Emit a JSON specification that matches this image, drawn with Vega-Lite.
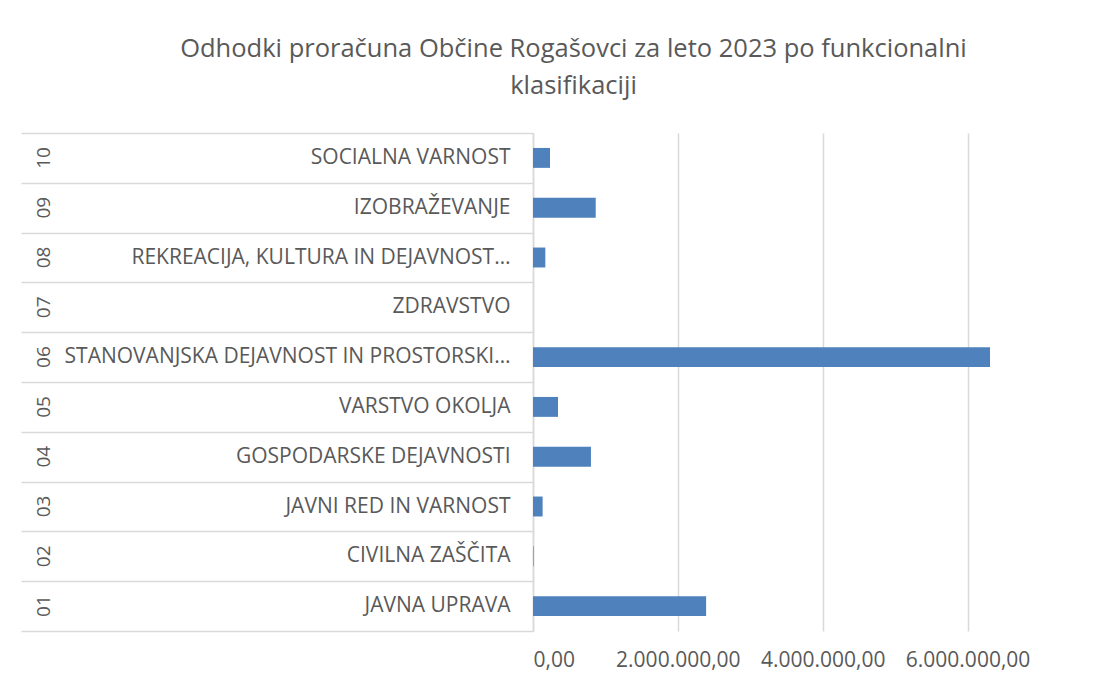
{
  "$schema": "https://vega.github.io/schema/vega-lite/v6.json",
  "autosize": "none",
  "width": 507,
  "height": 498,
  "padding": {"left": 533, "top": 133, "right": 79, "bottom": 55},
  "background": "white",
  "title": {
    "text": ["Odhodki proračuna Občine Rogašovci za leto 2023 po funkcionalni", "klasifikaciji"],
    "font": "Open Sans",
    "fontSize": 25.5,
    "fontWeight": "normal",
    "color": "#595959",
    "anchor": "middle",
    "frame": "group",
    "dx": -213,
    "offset": 33,
    "lineHeight": 37
  },
  "data": {
    "values": [
      {"category": "10 SOCIALNA VARNOST", "value": 235000},
      {"category": "09 IZOBRAŽEVANJE", "value": 866000},
      {"category": "08 REKREACIJA, KULTURA IN DEJAVNOST…", "value": 170000},
      {"category": "07 ZDRAVSTVO", "value": 0},
      {"category": "06 STANOVANJSKA DEJAVNOST IN PROSTORSKI…", "value": 6310000},
      {"category": "05 VARSTVO OKOLJA", "value": 345000},
      {"category": "04 GOSPODARSKE DEJAVNOSTI", "value": 800000},
      {"category": "03 JAVNI RED IN VARNOST", "value": 133000},
      {"category": "02 CIVILNA ZAŠČITA", "value": 8000},
      {"category": "01 JAVNA UPRAVA", "value": 2390000}
    ]
  },
  "layer": [
    {
      "mark": {"type": "bar", "color": "#4f81bd", "height": {"band": 0.4}},
      "encoding": {
        "y": {
          "field": "category", "type": "nominal", "sort": "descending",
          "scale": {"paddingInner": 0, "paddingOuter": 0},
          "axis": {
            "orient": "left",
            "title": null, "ticks": false, "tickSize": 0, "domain": true, "domainColor": "#d9d9d9", "domainWidth": 1.5,
            "labelExpr": "slice(datum.value, 3)", "labelPadding": 23, "labelLimit": 700,
            "labelFont": "Open Sans", "labelFontSize": 21, "labelColor": "#595959",
            "encode": {"labels": {"update": {"dx": {"signal": "indexof(datum.value, '…') >= 0 ? 17 : 0"}}}}
          }
        },
        "x": {
          "field": "value", "type": "quantitative",
          "scale": {"domain": [0, 7000000], "nice": false},
          "axis": {
            "title": null, "values": [0, 2000000, 4000000, 6000000], "format": ",.2f",
            "grid": true, "gridColor": "#d9d9d9", "gridWidth": 1.5, "domain": false, "ticks": false,
            "labelPadding": 18, "labelFont": "Open Sans", "labelFontSize": 21, "labelColor": "#595959"
          }
        }
      }
    },
    {
      "mark": {"type": "bar", "opacity": 0},
      "encoding": {
        "y": {
          "field": "category", "type": "nominal", "sort": "descending",
          "axis": {
            "orient": "left",
            "title": null, "ticks": false, "tickSize": 0, "domain": false,
            "labelExpr": "slice(datum.value, 0, 2)", "labelAngle": -90,
            "labelAlign": "center", "labelBaseline": "middle", "labelPadding": 490,
            "labelFont": "Open Sans", "labelFontSize": 19, "labelColor": "#595959"
          }
        }
      }
    },
    {
      "mark": {"type": "bar", "opacity": 0},
      "encoding": {
        "y": {
          "field": "category", "type": "nominal", "sort": "descending",
          "axis": {
            "orient": "left",
            "title": null, "ticks": true, "tickSize": 512, "tickBand": "extent",
            "tickColor": "#d9d9d9", "tickWidth": 1.5, "labels": false, "domain": false
          }
        }
      }
    }
  ],
  "resolve": {"axis": {"y": "independent"}},
  "config": {
    "view": {"stroke": null},
    "font": "Open Sans",
    "locale": {"number": {"decimal": ",", "thousands": ".", "grouping": [3], "currency": ["", " €"]}}
  }
}
